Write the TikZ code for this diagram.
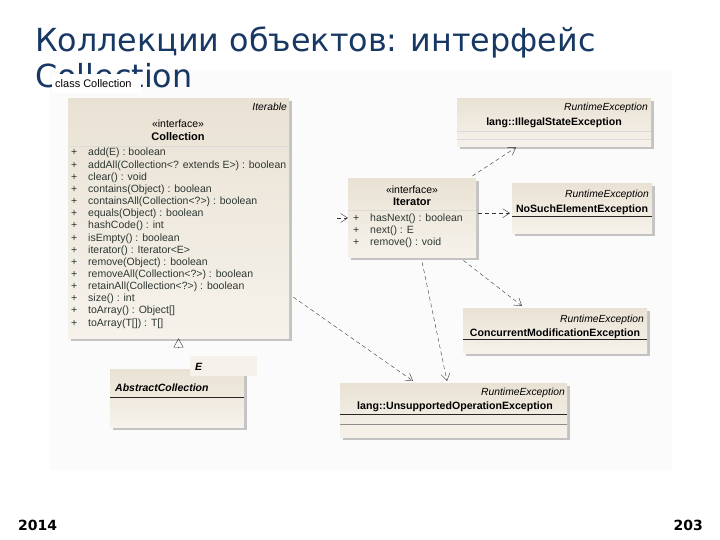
\documentclass[tikz,border=0pt]{standalone}
\usepackage{fontspec}
\setmainfont{DejaVu Sans}
\newfontfamily\umlfont{Liberation Sans}
\usetikzlibrary{arrows.meta,shadows}

\definecolor{titleblue}{RGB}{24,56,100}
\definecolor{umltop}{RGB}{233,226,212}
\definecolor{umlbot}{RGB}{246,242,235}
\definecolor{umltext}{RGB}{45,55,50}

\tikzset{
  umlbox/.style={anchor=north west, inner sep=0pt, draw=none,
    top color=umltop, bottom color=umlbot,
    drop shadow={shadow xshift=3pt, shadow yshift=-3pt, fill=black!50, opacity=0.45}},
  meth/.style={anchor=base west, inner sep=0pt, text=umltext,
    font=\umlfont\fontsize{10.5}{12}\selectfont},
  stereo/.style={anchor=base, inner sep=0pt, font=\umlfont\fontsize{10.5}{12}\selectfont},
  cname/.style={anchor=base, inner sep=0pt, font=\umlfont\bfseries\fontsize{11}{13}\selectfont},
  xname/.style={anchor=base, inner sep=0pt, font=\umlfont\bfseries\fontsize{10.6}{12}\selectfont},
  super/.style={anchor=base east, inner sep=0pt, font=\umlfont\itshape\fontsize{10.3}{12}\selectfont},
  faintline/.style={black!14, line width=0.6pt},
  darkline/.style={black!85, line width=0.7pt},
  dep/.style={black!80, thin, dash pattern=on 4pt off 3pt,
    -{Straight Barb[length=7pt,width=9pt]}},
  gentip/.style={black!80, thin, -{Triangle[open,length=9pt,width=10pt]}}
}

\begin{document}
\begin{tikzpicture}[x=1pt,y=-1pt]
    \useasboundingbox (0,0) rectangle (720,540);

    % Diagram panel
    \fill[black!1.5] (50,70) rectangle (672,470);

    % Title
    \node[anchor=base west, inner sep=0pt, text=titleblue,
      font=\fontsize{31.8}{36}\selectfont] (title1) at (35,52) {Коллекции объектов: интерфейс};
    \node[anchor=base west, inner sep=0pt, text=titleblue,
      font=\fontsize{31.8}{36}\selectfont] (title2) at (35,88) {Collection};

    % Diagram label
    \node[anchor=north west, fill=white, inner sep=0pt, minimum width=89pt, minimum height=19pt] (lblbox) at (52,74) {};
    \node[anchor=base west, inner sep=0pt, font=\umlfont\fontsize{11}{12}\selectfont] (lbl) at (55,87.5) {class Collection};

    % Collection
    \node[umlbox, minimum width=221pt, minimum height=240pt] (coll) at (68,98) {};
    \node[super] (collsup) at (287,111) {Iterable};
    \node[stereo] (collst) at (178,128) {«interface»};
    \node[cname] (collname) at (178,141) {Collection};
    \draw[faintline] (68,146) -- (289,146);
    \foreach \m [count=\i from 0] in {{add(E) : boolean},
        {addAll(Collection<? extends E>) : boolean}, {clear() : void},
        {contains(Object) : boolean}, {containsAll(Collection<?>) : boolean},
        {equals(Object) : boolean}, {hashCode() : int}, {isEmpty() : boolean},
        {iterator() : Iterator<E>}, {remove(Object) : boolean},
        {removeAll(Collection<?>) : boolean}, {retainAll(Collection<?>) : boolean},
        {size() : int}, {toArray() : Object[]}, {toArray(T[]) : T[]}} {
      \pgfmathsetmacro\yy{156+12.15*\i}
      \node[meth] (cp\i) at (71,\yy) {+};
      \node[meth] (cm\i) at (88,\yy) {\m};
    }

    % AbstractCollection with template parameter
    \node[umlbox, minimum width=134pt, minimum height=58pt] (abs) at (110,369) {};
    \node[anchor=north west, inner sep=0pt, fill=umlbot, minimum width=67pt, minimum height=20pt] (tpl) at (190,356) {};
    \node[anchor=base west, inner sep=0pt, font=\umlfont\bfseries\itshape\fontsize{10.5}{12}\selectfont] (tplname) at (195,370) {E};
    \node[anchor=base west, inner sep=0pt, font=\umlfont\bfseries\itshape\fontsize{10.5}{12}\selectfont] (absname) at (115,391) {AbstractCollection};
    \draw[darkline] (110,397) -- (244,397);

    % Iterator
    \node[umlbox, minimum width=128pt, minimum height=79pt] (iter) at (348,178) {};
    \node[stereo] (iterst) at (412,194) {«interface»};
    \node[cname] (itername) at (412,206) {Iterator};
    \draw[faintline] (348,210) -- (476,210);
    \foreach \m [count=\i from 0] in {{hasNext() : boolean}, {next() : E}, {remove() : void}} {
      \pgfmathsetmacro\yy{222+11.8*\i}
      \node[meth] (ip\i) at (353,\yy) {+};
      \node[meth] (im\i) at (370,\yy) {\m};
    }

    % Exceptions
    \node[umlbox, minimum width=194pt, minimum height=48pt] (ise) at (457,98) {};
    \node[super] (isesup) at (648,111) {RuntimeException};
    \node[xname] (isename) at (554,126) {lang::IllegalStateException};
    \draw[faintline] (457,131) -- (651,131);
    \draw[faintline] (457,139) -- (651,139);

    \node[umlbox, minimum width=140pt, minimum height=50pt] (nse) at (512,183) {};
    \node[super] (nsesup) at (649,198) {RuntimeException};
    \node[xname] (nsename) at (582,212) {NoSuchElementException};
    \draw[darkline] (512,216.5) -- (652,216.5);

    \node[umlbox, minimum width=184pt, minimum height=45pt] (cme) at (463,308) {};
    \node[super] (cmesup) at (644,322) {RuntimeException};
    \node[xname] (cmename) at (555,336) {ConcurrentModificationException};
    \draw[darkline] (463,339.5) -- (647,339.5);

    \node[umlbox, minimum width=227pt, minimum height=54pt] (uoe) at (340,383) {};
    \node[super] (uoesup) at (565,395) {RuntimeException};
    \node[xname] (uoename) at (455,409) {lang::UnsupportedOperationException};
    \draw[darkline] (340,414) -- (567,414);
    \draw[black!45, line width=0.6pt] (340,424) -- (567,424);

    % Generalization AbstractCollection -> Collection
    \coordinate (gen) at (178.5,348);
    \draw[gentip] (gen) -- (gen |- coll.south);

    % Dependencies
    \coordinate (itdep) at (337,218);
    \draw[dep] (itdep) -- (itdep -| iter.west);
    \draw[dep] ([xshift=4pt,yshift=-79pt]coll.east) -- ([xshift=73pt,yshift=2pt]uoe.north west);
    \draw[dep] ([xshift=10pt,yshift=-5pt]iter.south) -- ([xshift=107pt,yshift=2pt]uoe.north west);
    \draw[dep] ([xshift=-13pt,yshift=-3pt]iter.south east) -- ([xshift=59pt,yshift=2pt]cme.north west);
    \draw[dep] ([xshift=2pt,yshift=4.5pt]iter.east) -- ([xshift=-2pt,yshift=-5pt]nse.west);
    \draw[dep] ([xshift=-4pt,yshift=2pt]iter.north east) -- ([xshift=59pt,yshift=-1pt]ise.south west);

    % Footer
    \node[anchor=base west, inner sep=0pt, font=\bfseries\fontsize{14}{16}\selectfont] (year) at (18,530) {2014};
    \node[anchor=base east, inner sep=0pt, font=\bfseries\fontsize{14}{16}\selectfont] (page) at (703,530) {203};
\end{tikzpicture}
\end{document}
